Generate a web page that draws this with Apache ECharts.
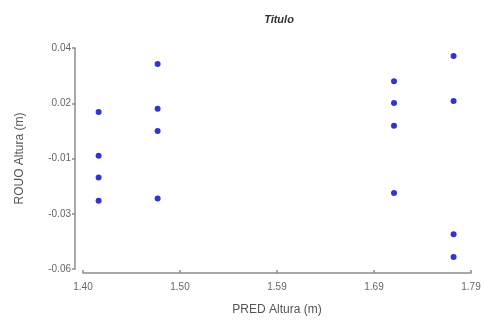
<!DOCTYPE html>
<html>
<head>
<meta charset="utf-8">
<script src="https://cdn.jsdelivr.net/npm/echarts@6/dist/echarts.min.js"></script>
<style>
  html, body { margin: 0; padding: 0; background: #fff; }
  #chart { width: 485px; height: 321px; }
</style>
</head>
<body>
<div id="chart"></div>
<script>
// valores
const predAltura = [
  1.4157, 1.4157, 1.4157, 1.4157,
  1.4750, 1.4750, 1.4750, 1.4750,
  1.7126, 1.7126, 1.7126, 1.7126,
  1.7725, 1.7725, 1.7725, 1.7725
]
const resAltura = [
  0.0110, -0.0088, -0.0186, -0.0291,
  0.0328, 0.0125, 0.0024, -0.0281,
  0.0250, 0.0151, 0.0048, -0.0256,
  0.0364, 0.0160, -0.0443, -0.0546
]
const xTicks = [1.40, 1.4975, 1.595, 1.6925, 1.79]
const xTickLabels = ['1.40', '1.50', '1.59', '1.69', '1.79']
const yTicks = [-0.06, -0.035, -0.01, 0.015, 0.04]
const yTickLabels = ['-0.06', '-0.03', '-0.01', '0.02', '0.04']

const chart = echarts.init(document.getElementById('chart'))

const axisColor = '#8c8c8c'
const labelColor = '#666'

function labelFor(ticks, labels) {
  return v => {
    for (let i = 0; i < ticks.length; i++) {
      if (Math.abs(ticks[i] - v) < 1e-6) return labels[i]
    }
    return ''
  }
}

chart.setOption({
  animation: false,
  title: {
    text: 'Titulo',
    left: 274,
    top: 9,
    textAlign: 'center',
    textStyle: {
      fontFamily: 'Liberation Sans',
      fontSize: 11,
      fontStyle: 'italic',
      fontWeight: 'bold',
      color: '#333'
    }
  },
  grid: {
    left: 83,
    right: 14,
    top: 48,
    bottom: 52
  },
  xAxis: {
    type: 'value',
    min: 1.40,
    max: 1.79,
    offset: 4,
    name: 'PRED Altura (m)',
    nameLocation: 'middle',
    nameGap: 31,
    nameTextStyle: { fontFamily: 'Liberation Sans', fontSize: 12, color: '#555' },
    axisLine: { show: true, onZero: false, lineStyle: { color: axisColor, width: 1.5 } },
    axisTick: { show: true, inside: true, length: 3, customValues: xTicks, lineStyle: { color: axisColor, width: 1.5 } },
    axisLabel: {
      customValues: xTicks,
      formatter: labelFor(xTicks, xTickLabels),
      fontFamily: 'Liberation Sans',
      fontSize: 10,
      color: labelColor,
      margin: 9
    },
    splitLine: { show: false }
  },
  yAxis: {
    type: 'value',
    min: -0.06,
    max: 0.04,
    offset: 8,
    name: 'ROUO Altura (m)',
    nameLocation: 'middle',
    nameGap: 49,
    nameTextStyle: { fontFamily: 'Liberation Sans', fontSize: 12, color: '#555' },
    axisLine: { show: true, onZero: false, lineStyle: { color: axisColor, width: 1.5 } },
    axisTick: { show: true, length: 3, customValues: yTicks, lineStyle: { color: axisColor, width: 1.5 } },
    axisLabel: {
      customValues: yTicks,
      formatter: labelFor(yTicks, yTickLabels),
      fontFamily: 'Liberation Sans',
      fontSize: 10,
      color: labelColor,
      margin: 4
    },
    splitLine: { show: false }
  },
  series: [{
    type: 'scatter',
    symbol: 'circle',
    symbolSize: 6,
    itemStyle: { color: '#0000c8' },
    data: predAltura.map((x, i) => [x, resAltura[i]])
  }]
})
</script>
</body>
</html>
